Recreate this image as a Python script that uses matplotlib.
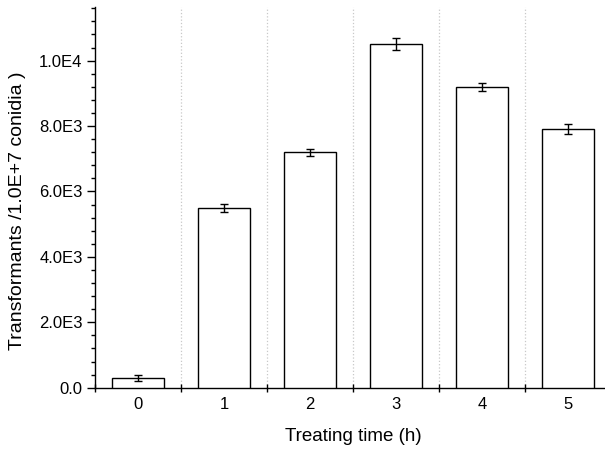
import numpy as np
import matplotlib.pyplot as plt
from matplotlib.ticker import MultipleLocator, FuncFormatter

plt.rcParams['font.family'] = ['Liberation Sans', 'DejaVu Sans']

# Transformant counts per treating time
hours = ['0', '1', '2', '3', '4', '5']
counts = [300, 5500, 7200, 10500, 9200, 7900]
errors = [80, 130, 110, 190, 130, 150]

fig = plt.figure(figsize=(6.05, 4.49), dpi=100)
ax = fig.add_axes([95 / 605, 61.3 / 449, 516 / 605, 380.4 / 449])

x = np.arange(len(hours))
ax.bar(x, counts, width=0.6, color='white', edgecolor='black', linewidth=1.0,
       zorder=3)
ax.errorbar(x, counts, yerr=errors, fmt='none', ecolor='black', elinewidth=1.0,
            capsize=2.8, capthick=1.0, zorder=4)

# dotted separators between groups
for b in np.arange(0.5, len(hours) - 0.5, 1.0):
    ax.axvline(b, color='#c8c8c8', linestyle=':', linewidth=0.9, zorder=1)

ax.set_xlim(-0.5, len(hours) - 0.5)
ax.set_ylim(0, 11630)

ax.set_xticks(np.arange(-0.5, len(hours), 1.0))
ax.set_xticklabels([])
ax.set_xticks(x, minor=True)
ax.set_xticklabels(hours, minor=True)
ax.tick_params(axis='x', which='major', direction='inout', length=6, width=1.0)
ax.tick_params(axis='x', which='minor', length=0, labelsize=12, pad=7)

ax.yaxis.set_major_locator(MultipleLocator(2000))
ax.yaxis.set_minor_locator(MultipleLocator(400))


def fmt(v, pos):
    if abs(v) < 1e-9:
        return '0.0'
    if v < 0:
        return ''
    e = int(np.floor(np.log10(v)))
    return f'{v / 10**e:.1f}E{e}'


ax.yaxis.set_major_formatter(FuncFormatter(fmt))
ax.tick_params(axis='y', which='major', direction='out', length=5.5, width=1.0,
               labelsize=12)
ax.tick_params(axis='y', which='minor', direction='out', length=3, width=1.0)

for s in ['top', 'right']:
    ax.spines[s].set_visible(False)
ax.spines['left'].set_linewidth(1.0)
ax.spines['bottom'].set_linewidth(1.0)

ax.set_xlabel('Treating time (h)', fontsize=13.5, labelpad=11)
ax.set_ylabel('Transformants /1.0E+7 conidia )', fontsize=14, labelpad=8)
ax.yaxis.set_label_coords(-0.133, 0.466)

fig.savefig('out.png', dpi=100)
